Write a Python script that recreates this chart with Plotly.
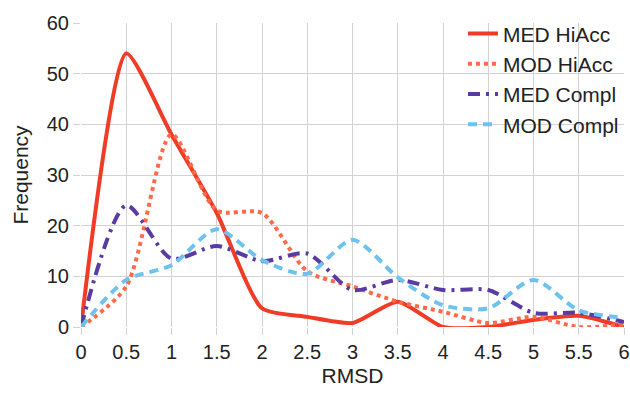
import plotly.graph_objects as go

rmsd = [0, 0.5, 1, 1.5, 2, 2.5, 3, 3.5, 4, 4.5, 5, 5.5, 6]
med_hiacc = [0, 54, 38, 22.5, 3.7, 2, 0.8, 5, 0, 0, 1.4, 2.2, 0]
mod_hiacc = [0, 8, 38, 23, 22.5, 11, 8, 5, 3, 0.8, 2, 0, 0.5]
med_compl = [0, 24, 13.5, 16, 13, 14.5, 7.3, 9.3, 7.3, 7.3, 2.8, 2.8, 1]
mod_compl = [0, 9.3, 12.2, 19.3, 13.2, 10.5, 17.2, 9.8, 4.3, 3.7, 9.3, 3.3, 1.8]

series = [
    ("MED HiAcc", med_hiacc, "#f03c26", "solid", 0.6),
    ("MOD HiAcc", mod_hiacc, "#ff6a4a", "dot", 0.75),
    ("MED Compl", med_compl, "#5a3aa3", "12px,6px,3px,6px", 0.75),
    ("MOD Compl", mod_compl, "#6ec3ee", "9px,6px", 0.75),
]

FONT = "Liberation Sans, Arial, sans-serif"

fig = go.Figure()
for name, ys, color, dash, sm in series:
    fig.add_trace(go.Scatter(
        x=rmsd, y=ys, name=name, mode="lines",
        line=dict(color=color, width=4, dash=dash, shape="spline", smoothing=sm),
    ))

axis_common = dict(
    showgrid=True, gridcolor="#d3d3d3", gridwidth=1,
    ticks="outside", ticklen=7, tickcolor="#d3d3d3",
    zeroline=False, showline=False, automargin=False,
    tickfont=dict(family=FONT, size=20, color="#222"),
)

fig.update_layout(
    width=630, height=394,
    margin=dict(l=81, r=6, t=23, b=67),
    paper_bgcolor="white", plot_bgcolor="white",
    font=dict(family=FONT, size=21, color="#222"),
    xaxis=dict(range=[0, 6], tick0=0, dtick=0.5,
               title=dict(text="RMSD", standoff=6, font=dict(size=21)), **axis_common),
    yaxis=dict(range=[0, 60], tick0=0, dtick=10,
               title=dict(text="Frequency", standoff=12, font=dict(size=21)), **axis_common),
    legend=dict(x=1.0, y=1.032, xanchor="right", yanchor="top", bgcolor="rgba(0,0,0,0)",
                font=dict(size=21), tracegroupgap=0, itemwidth=30),
    showlegend=True,
)
fig.write_html("out.html", config={"displayModeBar": False},
               post_script="document.body.style.margin='0';")
